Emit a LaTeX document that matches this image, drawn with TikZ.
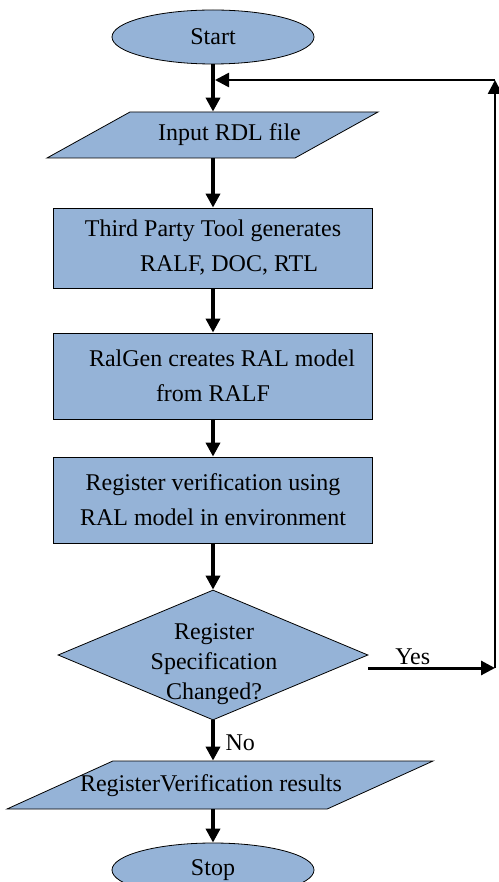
\documentclass[tikz,border=0pt]{standalone}
\usepackage{fontspec}
\setmainfont{Liberation Serif}
\usetikzlibrary{shapes.geometric,arrows.meta,positioning}

\definecolor{boxblue}{HTML}{95B3D7}

\begin{document}
\begin{tikzpicture}[
  x=0.5pt, y=-0.5pt,
  font=\rmfamily\fontsize{12}{17.5}\selectfont,
  terminal/.style={
    ellipse,
    draw=black,
    fill=boxblue,
    minimum width=101pt,
    minimum height=27pt,
    inner sep=0pt
  },
  io/.style={
    trapezium,
    trapezium stretches body=true,
    draw=black,
    fill=boxblue,
    text height=8.5pt,
    text depth=2.5pt
  },
  process/.style={
    rectangle,
    draw=black,
    fill=boxblue,
    minimum width=159.5pt,
    align=center
  },
  decision/.style={
    diamond,
    draw=black,
    fill=boxblue,
    minimum width=155pt,
    minimum height=65pt,
    inner sep=0pt
  },
  flow/.style={-{Triangle[length=7pt,width=7pt]}, line width=2pt},
  back/.style={-{Triangle[length=7pt,width=7pt]}, line width=1.3pt}
]
\useasboundingbox (0,0) rectangle (498,882);

\node[terminal] (start) at (213,37) {Start};
\node[io, trapezium left angle=29, trapezium right angle=151,
  inner xsep=-6pt, inner ysep=6pt, minimum width=165.5pt] (input) at (212.5,135) {\hspace*{17pt}Input RDL file};
\node[process, minimum height=40pt] (gen) at (213,248) {Third Party Tool generates\\\hspace*{16pt}RALF, DOC, RTL};
\node[process, minimum height=43pt] (ralgen) at (213,376) {\hspace*{9pt}RalGen creates RAL model\\from RALF};
\node[process, minimum height=43pt] (verif) at (213,500) {Register verification using\\RAL model in environment};
\node[decision] (dec) at (213,655) {};
\node[align=center, font=\rmfamily\fontsize{12}{15}\selectfont] (dectext) at (214,664) {Register\\Specification\\Changed?};
\node[io, trapezium left angle=24.4, trapezium right angle=155.6,
  inner xsep=-17pt, inner ysep=6.5pt, minimum width=213pt] (result) at (220,785) {RegisterVerification results\hspace*{9pt}};
\node[terminal] (stop) at (213,870) {Stop};

\coordinate (merge) at (213,80);
\coordinate (looptop) at (495,80);
\coordinate (loopbot) at (495,668);

% main flow
\draw[line width=2pt] (start) -- (merge);
\draw[flow] (merge) -- (merge |- input.north);
\draw[flow] (input.south -| gen) -- (gen);
\draw[flow] (gen) -- (ralgen);
\draw[flow] (ralgen) -- (verif);
\draw[flow] (verif) -- (dec);
\draw[flow] (dec.south) -- (dec.south |- result.north) node[right, midway, xshift=2pt, yshift=-1pt] {No};
\draw[flow] (stop.north |- result.south) -- (stop.north);

% loop back
\draw[flow, line width=1.5pt] (dec.east |- loopbot) -- (loopbot) node[above, pos=0.35, yshift=-2.5pt] {Yes};
\draw[back] (loopbot) -- (looptop);
\draw[back, shorten >=1pt] (looptop) -- (merge);

\end{tikzpicture}
\end{document}
